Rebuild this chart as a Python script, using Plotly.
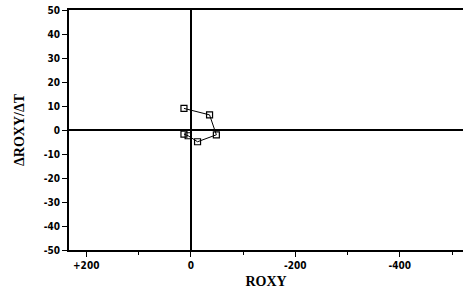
import plotly.graph_objects as go

roxy = [13, -36, -49, -13, 5, 13]
droxy_dt = [9, 6.3, -2, -4.9, -2.4, -1.7]

x_tickvals = [200, 0, -200, -400]
x_ticktext = ["+200", "0", "-200", "-400"]
y_tickvals = [50, 40, 30, 20, 10, 0, -10, -20, -30, -40, -50]
y_ticktext = ["50", "40", "30", "20", "10", "0", "-10", "-20", "-30", "-40", "-50"]

tick_font = dict(family="Liberation Sans Narrow, DejaVu Sans Condensed, Arial Narrow, sans-serif",
                 size=10, color="black", weight="bold")
title_font = dict(family="Liberation Serif, DejaVu Serif, serif", size=14, color="black", weight="bold")

fig = go.Figure()
fig.add_trace(go.Scatter(
    x=roxy, y=droxy_dt, mode="lines+markers",
    line=dict(color="black", width=1),
    marker=dict(symbol="square-open", size=6, color="black", line=dict(width=1.2, color="black")),
    showlegend=False,
))

fig.update_layout(
    width=463, height=294,
    margin=dict(l=69, r=0, t=10, b=44),
    paper_bgcolor="white", plot_bgcolor="white",
    xaxis=dict(
        range=[233, -521],
        tickvals=x_tickvals, ticktext=x_ticktext,
        ticks="outside", ticklen=5, tickwidth=1, tickcolor="black",
        minor=dict(tickvals=[100, -100, -300, -500], ticks="outside", ticklen=3, tickcolor="black"),
        showline=True, linecolor="black", linewidth=2, mirror=True,
        showgrid=False,
        zeroline=True, zerolinecolor="black", zerolinewidth=2,
        tickfont=tick_font,
        title=dict(text="ROXY", font=title_font, standoff=6),
    ),
    yaxis=dict(
        range=[-50, 50],
        tickvals=y_tickvals, ticktext=y_ticktext,
        ticks="outside", ticklen=5, tickwidth=1, tickcolor="black",
        showline=True, linecolor="black", linewidth=2, mirror=False,
        showgrid=False,
        zeroline=True, zerolinecolor="black", zerolinewidth=2,
        tickfont=tick_font,
        title=dict(text="ΔROXY/ΔT", font=title_font, standoff=16),
    ),
)

fig.write_html("out.html",
               config={"displayModeBar": False},
               post_script="document.body.style.margin='0';document.body.style.overflow='hidden';")
